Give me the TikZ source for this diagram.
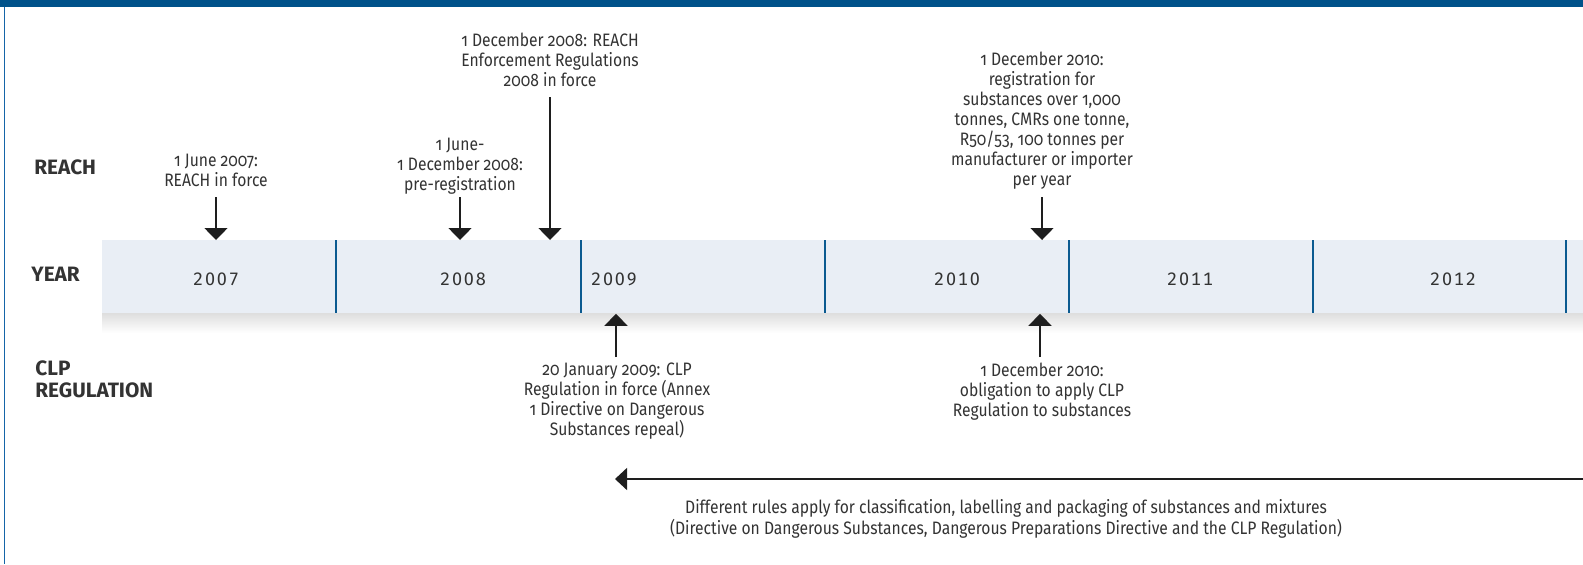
\documentclass[tikz,border=0pt]{standalone}
\usepackage{fontspec}
\setmainfont{Fira Sans}[FakeStretch=0.87, Numbers=OldStyle]
\newfontfamily\labfont{Fira Sans}[Numbers=Lining]
\newfontfamily\yearfont{Fira Sans}[Numbers={Lining,Monospaced}, LetterSpace=10]
\usetikzlibrary{arrows.meta}
\definecolor{topblue}{HTML}{00528A}
\definecolor{edgeblue}{HTML}{1565A8}
\definecolor{barfill}{HTML}{E9EEF5}
\definecolor{divblue}{HTML}{0B5A90}
\definecolor{txtgray}{HTML}{333333}
\definecolor{arrgray}{HTML}{1E1E1E}
\begin{document}
\begin{tikzpicture}[x=0.5pt,y=-0.5pt,
  txt/.style={font=\fontsize{9}{10}\selectfont, text=txtgray, align=center, inner sep=0pt, anchor=base},
  lab/.style={font=\labfont\bfseries\fontsize{10.4}{11}\selectfont, text=txtgray, align=left, inner sep=0pt, anchor=base west},
  yr/.style={font=\yearfont\fontsize{9}{10}\selectfont, text=txtgray, inner sep=0pt, anchor=base},
  arr/.style={draw=arrgray, line width=0.75pt, -{Triangle[width=11.5pt,length=6pt]}},
  divline/.style={draw=divblue, line width=1.2pt},
]
\useasboundingbox (0,0) rectangle (1583,564);
\fill[topblue] (0,0) rectangle (1583,7);
\draw[edgeblue, line width=0.7pt] (4.5,7) -- (4.5,564);

% timeline bar
\shade[top color=black!13, bottom color=white] (102,313) rectangle (1583,333);
\node[fill=barfill, minimum width=740.5pt, minimum height=36.5pt, anchor=north west, inner sep=0pt] (bar) at (102,240) {};
\foreach \x in {336,581,825,1069,1313,1566} \draw[divline] (\x,240) -- (\x,313);

% years
\node[yr] (y2007) at (216,285) {2007};
\node[yr] (y2008) at (463,285) {2008};
\node[yr] (y2009) at (614,285) {2009};
\node[yr] (y2010) at (957,285) {2010};
\node[yr] (y2011) at (1190,285) {2011};
\node[yr] (y2012) at (1453,285) {2012};

% row labels
\node[lab] (lreach) at (34,174) {REACH};
\node[lab] (lyear) at (31,281) {YEAR};
\node[lab] (lclp) at (35,397) {CLP\\REGULATION};

% REACH events (anchor base = last line baseline)
\node[txt] (n1) at (216,186) {1 June 2007:\\REACH in force};
\node[txt] (n2) at (460,190) {1 June-\\1 December 2008:\\pre-registration};
\node[txt] (n3) at (550,86) {1 December 2008: REACH\\Enforcement Regulations\\2008 in force};
\node[txt] (n4) at (1042,185) {1 December 2010:\\registration for\\substances over 1,000\\tonnes, CMRs one tonne,\\R50/53, 100 tonnes per\\manufacturer or importer\\per year};
\coordinate (s1) at (216,197);
\coordinate (s2) at (460,197);
\coordinate (s3) at (550,97);
\coordinate (s4) at (1042,197);
\draw[arr] (s1) -- (s1 |- bar.north);
\draw[arr] (s2) -- (s2 |- bar.north);
\draw[arr] (s3) -- (s3 |- bar.north);
\draw[arr] (s4) -- (s4 |- bar.north);

% CLP events
\node[txt] (n5) at (617,435) {20 January 2009: CLP\\Regulation in force (Annex\\1 Directive on Dangerous\\Substances repeal)};
\node[txt] (n6) at (1042,416) {1 December 2010:\\obligation to apply CLP\\Regulation to substances};
\coordinate (u1) at (616,357);
\coordinate (u2) at (1040,357);
\draw[arr] (u1) -- (u1 |- bar.south);
\draw[arr] (u2) -- (u2 |- bar.south);

% bottom arrow
\coordinate (bstart) at (1583,479);
\coordinate (bend) at (615,479);
\draw[arr, -{Triangle[width=11pt,length=6pt]}] (bstart) -- (bend);
\node[txt, font=\fontsize{9}{10.5}\selectfont] (n7) at (1006,534) {Different rules apply for classification, labelling and packaging of substances and mixtures\\(Directive on Dangerous Substances, Dangerous Preparations Directive and the CLP Regulation)};
\end{tikzpicture}
\end{document}
